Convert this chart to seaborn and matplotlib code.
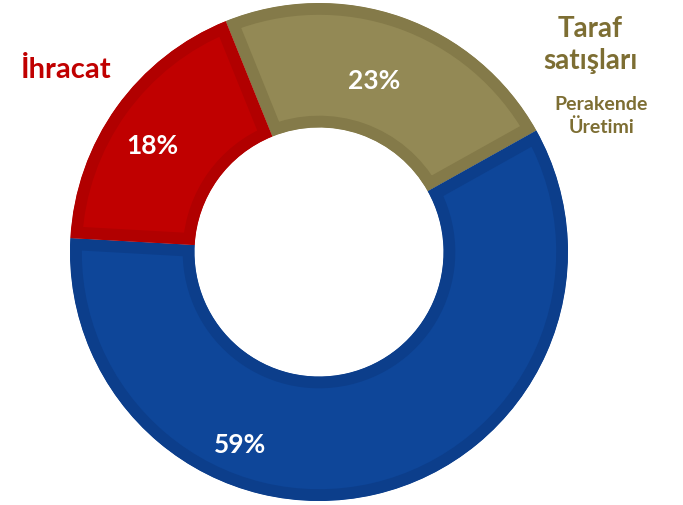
import matplotlib
matplotlib.use("Agg")
import matplotlib.pyplot as plt
import seaborn as sns
import numpy as np

sns.set_theme(style="white")
plt.rcParams['font.family'] = ['Lato', 'DejaVu Sans']

# Data (order: clockwise starting from top-left)
categories = ["Taraf satışları", "Perakende Üretimi", "İhracat"]
values = [23, 59, 18]
fill_colors = ["#938955", "#0e4699", "#c00000"]
edge_colors = ["#847a49", "#0c3e8b", "#b10000"]
# percent label placement (angle in degrees, radius fraction)
pct_label_angle = [72.2, 247.7, 147.6]
pct_label_radius = [0.721, 0.837, 0.794]

fig = plt.figure(figsize=(6.83, 5.05), dpi=100)
ax = fig.add_axes([70/683, 4/505, 498/683, 498/505])

wedges, texts, autotexts = ax.pie(
    values, colors=fill_colors, startangle=112, counterclock=False,
    radius=1.0, wedgeprops=dict(width=0.5, linewidth=0),
    autopct=lambda p: f"{p:.0f}%", pctdistance=0.75,
    textprops=dict(color="white", fontsize=19, fontweight="bold"))

ax.set_xlim(-1, 1)
ax.set_ylim(-1, 1)
ax.set_aspect("equal")
ax.axis("off")

for w, ec in zip(wedges, edge_colors):
    w.set_edgecolor(ec)
    w.set_linewidth(17)
    w.set_clip_on(True)
    w.set_clip_path(w)

for t, a, r in zip(autotexts, pct_label_angle, pct_label_radius):
    t.set_position((r*np.cos(np.radians(a)), r*np.sin(np.radians(a))))
    t.set_ha("center"); t.set_va("center")

# category labels
fig.text(66/683, 1 - 70/505, "İhracat", color="#c00000", fontsize=21,
         fontweight="bold", ha="center", va="center")
fig.text(590/683, 1 - 45/505, "Taraf\nsatışları", color="#7d6e33", fontsize=20,
         fontweight="bold", ha="center", va="center", linespacing=1.3)
fig.text(601/683, 1 - 116/505, "Perakende\nÜretimi", color="#7d6e33", fontsize=14,
         fontweight="bold", ha="center", va="center", linespacing=1.3)

fig.savefig("out.png", dpi=100, facecolor="white")
